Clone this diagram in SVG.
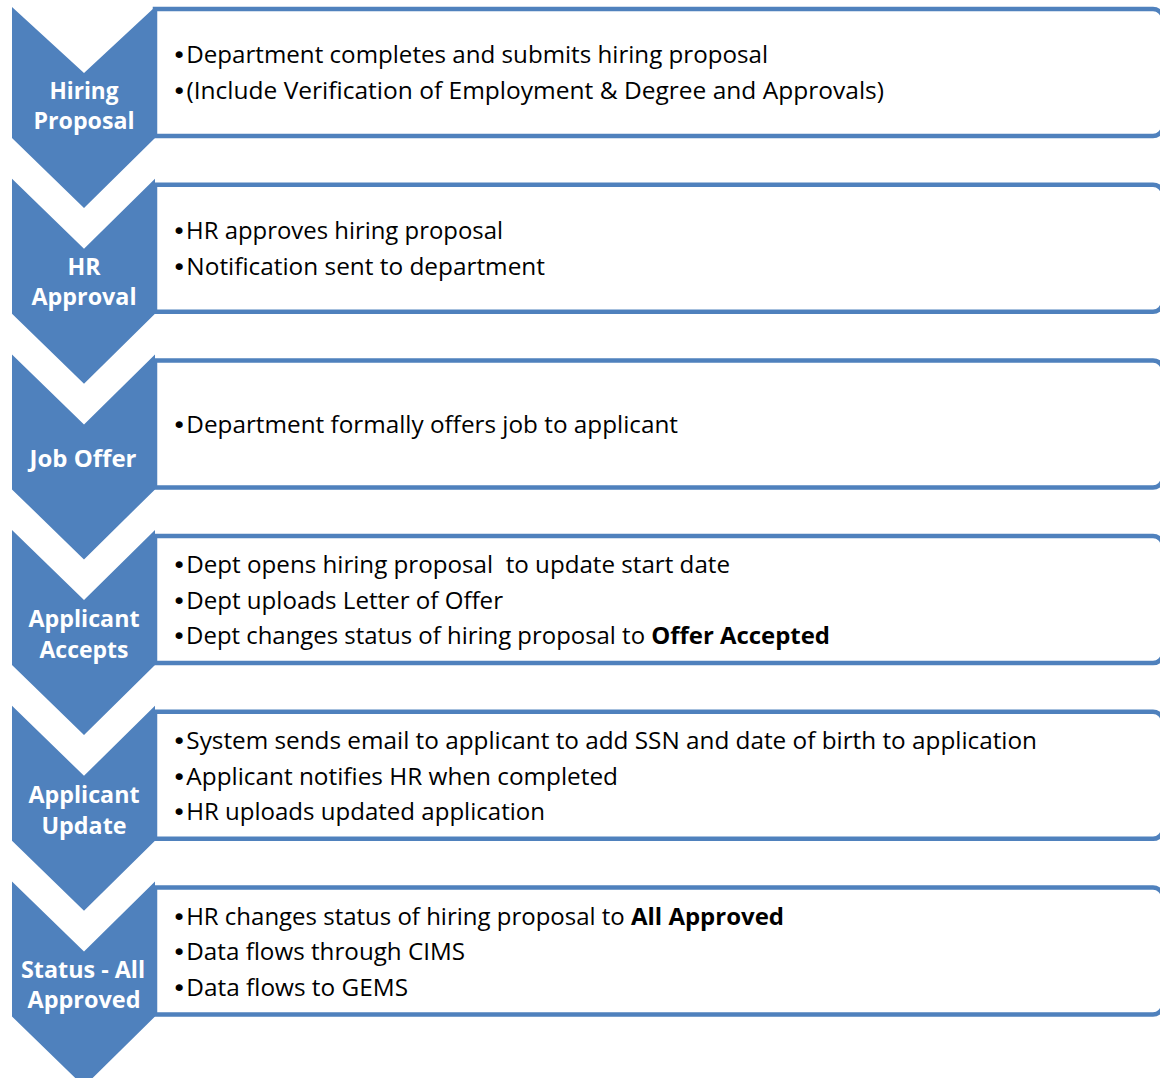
<svg xmlns="http://www.w3.org/2000/svg" width="1160" height="1078" viewBox="0 0 1160 1078">
<style>
.chev{fill:#4F81BD;}
.box{fill:#FFFFFF;stroke:#4F81BD;stroke-width:4.5;}
.lbl{font-family:"Open Sans","Liberation Sans",sans-serif;font-weight:bold;font-size:24px;fill:#FFFFFF;text-anchor:middle;}
.txt{font-family:"Open Sans","Liberation Sans",sans-serif;font-size:23.5px;fill:#000000;}
.bu{font-family:"DejaVu Sans",sans-serif;}
.b{font-weight:bold;}
</style>
<rect x="0" y="0" width="1160" height="1078" fill="#FFFFFF"/>
<g id="connectors"></g>
<g id="step1">
<path class="box" d="M155,9 H1153 A10,10 0 0 1 1163,19 V126 A10,10 0 0 1 1153,136 H155 Z"/>
<polygon class="chev" points="12,7 84,73 155,7 155,138 84,208 12,138"/>
<text class="lbl" x="84" y="99" textLength="69" lengthAdjust="spacingAndGlyphs">Hiring</text>
<text class="lbl" x="84" y="129" textLength="101" lengthAdjust="spacingAndGlyphs">Proposal</text>
<text class="txt" x="172" y="63" textLength="596" lengthAdjust="spacingAndGlyphs"><tspan class="bu">•</tspan>Department completes and submits hiring proposal</text>
<text class="txt" x="172" y="99" textLength="712" lengthAdjust="spacingAndGlyphs"><tspan class="bu">•</tspan>(Include Verification of Employment &amp; Degree and Approvals)</text>
</g>
<g id="step2">
<path class="box" d="M155,184.7 H1153 A10,10 0 0 1 1163,194.7 V301.7 A10,10 0 0 1 1153,311.7 H155 Z"/>
<polygon class="chev" points="12,178.7 84,248.7 155,178.7 155,313.7 84,383.7 12,313.7"/>
<text class="lbl" x="84" y="275" textLength="33" lengthAdjust="spacingAndGlyphs">HR</text>
<text class="lbl" x="84" y="305" textLength="105" lengthAdjust="spacingAndGlyphs">Approval</text>
<text class="txt" x="172" y="239" textLength="331" lengthAdjust="spacingAndGlyphs"><tspan class="bu">•</tspan>HR approves hiring proposal</text>
<text class="txt" x="172" y="275" textLength="373" lengthAdjust="spacingAndGlyphs"><tspan class="bu">•</tspan>Notification sent to department</text>
</g>
<g id="step3">
<path class="box" d="M155,360.4 H1153 A10,10 0 0 1 1163,370.4 V477.4 A10,10 0 0 1 1153,487.4 H155 Z"/>
<polygon class="chev" points="12,354.4 84,424.4 155,354.4 155,489.4 84,559.4 12,489.4"/>
<text class="lbl" x="83" y="467" textLength="107" lengthAdjust="spacingAndGlyphs">Job Offer</text>
<text class="txt" x="172" y="433" textLength="506" lengthAdjust="spacingAndGlyphs"><tspan class="bu">•</tspan>Department formally offers job to applicant</text>
</g>
<g id="step4">
<path class="box" d="M155,536.1 H1153 A10,10 0 0 1 1163,546.1 V653.1 A10,10 0 0 1 1153,663.1 H155 Z"/>
<polygon class="chev" points="12,530.1 84,600.1 155,530.1 155,665.1 84,735.1 12,665.1"/>
<text class="lbl" x="84" y="627" textLength="111" lengthAdjust="spacingAndGlyphs">Applicant</text>
<text class="lbl" x="84" y="658" textLength="89" lengthAdjust="spacingAndGlyphs">Accepts</text>
<text class="txt" x="172" y="573" textLength="558" lengthAdjust="spacingAndGlyphs" xml:space="preserve"><tspan class="bu">•</tspan>Dept opens hiring proposal  to update start date</text>
<text class="txt" x="172" y="609" textLength="331" lengthAdjust="spacingAndGlyphs"><tspan class="bu">•</tspan>Dept uploads Letter of Offer</text>
<text class="txt" x="172" y="644" textLength="658" lengthAdjust="spacingAndGlyphs"><tspan class="bu">•</tspan>Dept changes status of hiring proposal to <tspan class="b">Offer Accepted</tspan></text>
</g>
<g id="step5">
<path class="box" d="M155,711.8 H1153 A10,10 0 0 1 1163,721.8 V828.8 A10,10 0 0 1 1153,838.8 H155 Z"/>
<polygon class="chev" points="12,705.8 84,775.8 155,705.8 155,840.8 84,910.8 12,840.8"/>
<text class="lbl" x="84" y="803" textLength="111" lengthAdjust="spacingAndGlyphs">Applicant</text>
<text class="lbl" x="84" y="834" textLength="85" lengthAdjust="spacingAndGlyphs">Update</text>
<text class="txt" x="172" y="749" textLength="865" lengthAdjust="spacingAndGlyphs"><tspan class="bu">•</tspan>System sends email to applicant to add SSN and date of birth to application</text>
<text class="txt" x="172" y="785" textLength="446" lengthAdjust="spacingAndGlyphs"><tspan class="bu">•</tspan>Applicant notifies HR when completed</text>
<text class="txt" x="172" y="820" textLength="373" lengthAdjust="spacingAndGlyphs"><tspan class="bu">•</tspan>HR uploads updated application</text>
</g>
<g id="step6">
<path class="box" d="M155,887.5 H1153 A10,10 0 0 1 1163,897.5 V1004.5 A10,10 0 0 1 1153,1014.5 H155 Z"/>
<polygon class="chev" points="12,881.5 84,951.5 155,881.5 155,1016.5 84,1086.5 12,1016.5"/>
<text class="lbl" x="83" y="978" textLength="124" lengthAdjust="spacingAndGlyphs">Status - All</text>
<text class="lbl" x="84" y="1008" textLength="113" lengthAdjust="spacingAndGlyphs">Approved</text>
<text class="txt" x="172" y="925" textLength="612" lengthAdjust="spacingAndGlyphs"><tspan class="bu">•</tspan>HR changes status of hiring proposal to <tspan class="b">All Approved</tspan></text>
<text class="txt" x="172" y="960" textLength="293" lengthAdjust="spacingAndGlyphs"><tspan class="bu">•</tspan>Data flows through CIMS</text>
<text class="txt" x="172" y="996" textLength="236" lengthAdjust="spacingAndGlyphs"><tspan class="bu">•</tspan>Data flows to GEMS</text>
</g>
</svg>
